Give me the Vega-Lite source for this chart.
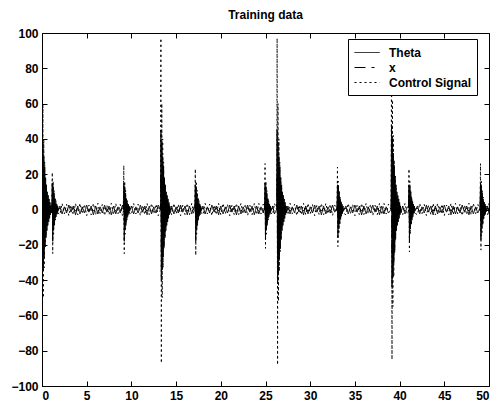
{
  "$schema": "https://vega.github.io/schema/vega-lite/v6.json",
  "autosize": "none",
  "width": 447,
  "height": 353,
  "padding": {"left": 42, "top": 33, "right": 11, "bottom": 20},
  "background": "white",
  "title": {"text": "Training data", "fontSize": 12, "fontWeight": "bold", "font": "Liberation Sans", "color": "black", "offset": 5, "anchor": "middle"},
  "config": {
    "view": {"stroke": "black", "strokeWidth": 1},
    "axis": {"grid": false, "domainColor": "black", "tickColor": "black", "labelColor": "black", "labelFont": "Liberation Sans", "labelFontSize": 12, "labelFontWeight": "bold", "tickSize": -5, "labelPadding": 9, "title": null},
    "legend": {"labelFont": "Liberation Sans", "labelFontSize": 12, "labelFontWeight": "bold", "labelColor": "black"}
  },
  "data": {"values": [
    {"t":0,"a":40,"b":20,"c":97},{"t":0.05,"a":-42,"b":-25,"c":-80},{"t":0.1,"a":38,"b":18,"c":60},{"t":0.15,"a":-34,"b":-16,"c":-50},{"t":0.2,"a":30,"b":14,"c":40},{"t":0.25,"a":-27,"b":-12,"c":-33},{"t":0.3,"a":24,"b":10,"c":27},{"t":0.35,"a":-21,"b":-9,"c":-22},{"t":0.4,"a":18,"b":8,"c":18},{"t":0.45,"a":-16,"b":-7,"c":-15},{"t":0.5,"a":14,"b":6,"c":12},{"t":0.55,"a":-12,"b":-5,"c":-10},{"t":0.6,"a":10,"b":4,"c":8},{"t":0.65,"a":-9,"b":-4,"c":-7},{"t":0.7,"a":8,"b":3,"c":6},{"t":0.75,"a":-7,"b":-3,"c":-5},{"t":0.8,"a":6,"b":2,"c":4},{"t":0.85,"a":-5,"b":-2,"c":-3},{"t":0.9,"a":4,"b":2,"c":3},{"t":0.95,"a":-3,"b":-1,"c":-2},{"t":1.0,"a":2,"b":1,"c":2},{"t":1.05,"a":-2,"b":-1,"c":-1},
    {"t":1.1,"a":1,"b":0,"c":-1},{"t":1.15,"a":15,"b":8,"c":21},{"t":1.2,"a":-18,"b":-8,"c":-25},{"t":1.25,"a":13,"b":6,"c":16},{"t":1.3,"a":-11,"b":-5,"c":-14},{"t":1.35,"a":9,"b":4,"c":11},{"t":1.4,"a":-8,"b":-3,"c":-9},{"t":1.45,"a":6,"b":3,"c":7},{"t":1.5,"a":-5,"b":-2,"c":-6},{"t":1.55,"a":4,"b":2,"c":5},{"t":1.6,"a":-3,"b":-1,"c":-4},{"t":1.65,"a":3,"b":1,"c":3},{"t":1.7,"a":-2,"b":-1,"c":-3},{"t":1.75,"a":2,"b":1,"c":2},{"t":1.8,"a":-1,"b":0,"c":-2},
    {"t":2.0,"a":2,"b":0.8,"c":-3},{"t":2.25,"a":-2.5,"b":-1,"c":3.5},{"t":2.5,"a":1.5,"b":0.5,"c":-2.5},{"t":2.75,"a":-2,"b":-0.7,"c":3},{"t":3.0,"a":2.5,"b":1,"c":-3.5},{"t":3.25,"a":-1.5,"b":-0.6,"c":2.5},{"t":3.5,"a":2,"b":0.7,"c":-3},{"t":3.75,"a":-3,"b":-0.9,"c":3.5},
    {"t":4.0,"a":2,"b":0.8,"c":-3},{"t":4.25,"a":-2.5,"b":-1,"c":3.5},{"t":4.5,"a":1.5,"b":0.5,"c":-2.5},{"t":4.75,"a":-2,"b":-0.7,"c":3},{"t":5.0,"a":2.5,"b":1,"c":-3.5},{"t":5.25,"a":-1.5,"b":-0.6,"c":2.5},{"t":5.5,"a":2,"b":0.7,"c":-3},{"t":5.75,"a":-3,"b":-0.9,"c":3.5},
    {"t":6.0,"a":2,"b":0.8,"c":-3},{"t":6.25,"a":-2.5,"b":-1,"c":3.5},{"t":6.5,"a":1.5,"b":0.5,"c":-2.5},{"t":6.75,"a":-2,"b":-0.7,"c":3},{"t":7.0,"a":2.5,"b":1,"c":-3.5},{"t":7.25,"a":-1.5,"b":-0.6,"c":2.5},{"t":7.5,"a":2,"b":0.7,"c":-3},{"t":7.75,"a":-3,"b":-0.9,"c":3.5},
    {"t":8.0,"a":2,"b":0.8,"c":-3},{"t":8.25,"a":-2.5,"b":-1,"c":3.5},{"t":8.5,"a":1.5,"b":0.5,"c":-2.5},{"t":8.75,"a":-2,"b":-0.7,"c":3},{"t":9.0,"a":2.5,"b":1,"c":-3.5},
    {"t":9.1,"a":1,"b":0,"c":-1},{"t":9.15,"a":15,"b":8,"c":25},{"t":9.2,"a":-18,"b":-8,"c":-25},{"t":9.25,"a":13,"b":6,"c":16},{"t":9.3,"a":-11,"b":-5,"c":-14},{"t":9.35,"a":9,"b":4,"c":11},{"t":9.4,"a":-8,"b":-3,"c":-9},{"t":9.45,"a":6,"b":3,"c":7},{"t":9.5,"a":-5,"b":-2,"c":-6},{"t":9.55,"a":4,"b":2,"c":5},{"t":9.6,"a":-3,"b":-1,"c":-4},{"t":9.65,"a":3,"b":1,"c":3},{"t":9.7,"a":-2,"b":-1,"c":-3},{"t":9.75,"a":2,"b":1,"c":2},{"t":9.8,"a":-1,"b":0,"c":-2},
    {"t":10.0,"a":2,"b":0.8,"c":-3},{"t":10.25,"a":-2.5,"b":-1,"c":3.5},{"t":10.5,"a":1.5,"b":0.5,"c":-2.5},{"t":10.75,"a":-2,"b":-0.7,"c":3},{"t":11.0,"a":2.5,"b":1,"c":-3.5},{"t":11.25,"a":-1.5,"b":-0.6,"c":2.5},{"t":11.5,"a":2,"b":0.7,"c":-3},{"t":11.75,"a":-3,"b":-0.9,"c":3.5},
    {"t":12.0,"a":2,"b":0.8,"c":-3},{"t":12.25,"a":-2.5,"b":-1,"c":3.5},{"t":12.5,"a":1.5,"b":0.5,"c":-2.5},{"t":12.75,"a":-2,"b":-0.7,"c":3},{"t":13.0,"a":2.5,"b":1,"c":-3.5},{"t":13.25,"a":0,"b":0,"c":0},
    {"t":13.3,"a":45,"b":20,"c":97},{"t":13.35,"a":-40,"b":-25,"c":-87},{"t":13.4,"a":38,"b":18,"c":60},{"t":13.45,"a":-34,"b":-16,"c":-50},{"t":13.5,"a":30,"b":14,"c":40},{"t":13.55,"a":-27,"b":-12,"c":-33},{"t":13.6,"a":24,"b":10,"c":27},{"t":13.65,"a":-21,"b":-9,"c":-22},{"t":13.7,"a":18,"b":8,"c":18},{"t":13.75,"a":-16,"b":-7,"c":-15},{"t":13.8,"a":14,"b":6,"c":12},{"t":13.85,"a":-12,"b":-5,"c":-10},{"t":13.9,"a":10,"b":4,"c":8},{"t":13.95,"a":-9,"b":-4,"c":-7},{"t":14.0,"a":8,"b":3,"c":6},{"t":14.05,"a":-7,"b":-3,"c":-5},{"t":14.1,"a":6,"b":2,"c":4},{"t":14.15,"a":-5,"b":-2,"c":-3},{"t":14.2,"a":4,"b":2,"c":3},{"t":14.25,"a":-3,"b":-1,"c":-2},{"t":14.3,"a":2,"b":1,"c":2},{"t":14.35,"a":-2,"b":-1,"c":-1},
    {"t":14.5,"a":2,"b":0.8,"c":-3},{"t":14.75,"a":-2.5,"b":-1,"c":3.5},{"t":15.0,"a":1.5,"b":0.5,"c":-2.5},{"t":15.25,"a":-2,"b":-0.7,"c":3},{"t":15.5,"a":2.5,"b":1,"c":-3.5},{"t":15.75,"a":-1.5,"b":-0.6,"c":2.5},{"t":16.0,"a":2,"b":0.7,"c":-3},{"t":16.25,"a":-3,"b":-0.9,"c":3.5},{"t":16.5,"a":2,"b":0.8,"c":-3},{"t":16.75,"a":-2.5,"b":-1,"c":3.5},{"t":17.0,"a":1.5,"b":0.5,"c":-2.5},
    {"t":17.1,"a":1,"b":0,"c":-1},{"t":17.15,"a":14,"b":8,"c":23},{"t":17.2,"a":-18,"b":-8,"c":-26},{"t":17.25,"a":13,"b":6,"c":16},{"t":17.3,"a":-11,"b":-5,"c":-14},{"t":17.35,"a":9,"b":4,"c":11},{"t":17.4,"a":-8,"b":-3,"c":-9},{"t":17.45,"a":6,"b":3,"c":7},{"t":17.5,"a":-5,"b":-2,"c":-6},{"t":17.55,"a":4,"b":2,"c":5},{"t":17.6,"a":-3,"b":-1,"c":-4},{"t":17.65,"a":3,"b":1,"c":3},{"t":17.7,"a":-2,"b":-1,"c":-3},{"t":17.75,"a":2,"b":1,"c":2},{"t":17.8,"a":-1,"b":0,"c":-2},
    {"t":18.0,"a":2,"b":0.8,"c":-3},{"t":18.25,"a":-2.5,"b":-1,"c":3.5},{"t":18.5,"a":1.5,"b":0.5,"c":-2.5},{"t":18.75,"a":-2,"b":-0.7,"c":3},{"t":19.0,"a":2.5,"b":1,"c":-3.5},{"t":19.25,"a":-1.5,"b":-0.6,"c":2.5},{"t":19.5,"a":2,"b":0.7,"c":-3},{"t":19.75,"a":-3,"b":-0.9,"c":3.5},
    {"t":20.0,"a":2,"b":0.8,"c":-3},{"t":20.25,"a":-2.5,"b":-1,"c":3.5},{"t":20.5,"a":1.5,"b":0.5,"c":-2.5},{"t":20.75,"a":-2,"b":-0.7,"c":3},{"t":21.0,"a":2.5,"b":1,"c":-3.5},{"t":21.25,"a":-1.5,"b":-0.6,"c":2.5},{"t":21.5,"a":2,"b":0.7,"c":-3},{"t":21.75,"a":-3,"b":-0.9,"c":3.5},
    {"t":22.0,"a":2,"b":0.8,"c":-3},{"t":22.25,"a":-2.5,"b":-1,"c":3.5},{"t":22.5,"a":1.5,"b":0.5,"c":-2.5},{"t":22.75,"a":-2,"b":-0.7,"c":3},{"t":23.0,"a":2.5,"b":1,"c":-3.5},{"t":23.25,"a":-1.5,"b":-0.6,"c":2.5},{"t":23.5,"a":2,"b":0.7,"c":-3},{"t":23.75,"a":-3,"b":-0.9,"c":3.5},
    {"t":24.0,"a":2,"b":0.8,"c":-3},{"t":24.25,"a":-2.5,"b":-1,"c":3.5},{"t":24.5,"a":1.5,"b":0.5,"c":-2.5},{"t":24.75,"a":-2,"b":-0.7,"c":3},
    {"t":24.9,"a":1,"b":0,"c":-1},{"t":24.95,"a":15,"b":8,"c":26},{"t":25.0,"a":-17,"b":-8,"c":-22},{"t":25.05,"a":13,"b":6,"c":16},{"t":25.1,"a":-11,"b":-5,"c":-14},{"t":25.15,"a":9,"b":4,"c":11},{"t":25.2,"a":-8,"b":-3,"c":-9},{"t":25.25,"a":6,"b":3,"c":7},{"t":25.3,"a":-5,"b":-2,"c":-6},{"t":25.35,"a":4,"b":2,"c":5},{"t":25.4,"a":-3,"b":-1,"c":-4},{"t":25.45,"a":3,"b":1,"c":3},{"t":25.5,"a":-2,"b":-1,"c":-3},{"t":25.55,"a":2,"b":1,"c":2},{"t":25.6,"a":-1,"b":0,"c":-2},
    {"t":25.8,"a":2,"b":0.8,"c":-3},{"t":26.0,"a":-2.5,"b":-1,"c":3.5},{"t":26.25,"a":0,"b":0,"c":0},
    {"t":26.3,"a":45,"b":20,"c":97},{"t":26.35,"a":-42,"b":-25,"c":-88},{"t":26.4,"a":38,"b":18,"c":60},{"t":26.45,"a":-36,"b":-16,"c":-52},{"t":26.5,"a":30,"b":14,"c":40},{"t":26.55,"a":-28,"b":-12,"c":-35},{"t":26.6,"a":24,"b":10,"c":27},{"t":26.65,"a":-22,"b":-9,"c":-24},{"t":26.7,"a":18,"b":8,"c":18},{"t":26.75,"a":-17,"b":-7,"c":-16},{"t":26.8,"a":14,"b":6,"c":12},{"t":26.85,"a":-12,"b":-5,"c":-10},{"t":26.9,"a":10,"b":4,"c":8},{"t":26.95,"a":-9,"b":-4,"c":-7},{"t":27.0,"a":8,"b":3,"c":6},{"t":27.05,"a":-7,"b":-3,"c":-5},{"t":27.1,"a":6,"b":2,"c":4},{"t":27.15,"a":-5,"b":-2,"c":-3},{"t":27.2,"a":4,"b":2,"c":3},{"t":27.25,"a":-3,"b":-1,"c":-2},{"t":27.3,"a":2,"b":1,"c":2},{"t":27.35,"a":-2,"b":-1,"c":-1},
    {"t":27.5,"a":2,"b":0.8,"c":-3},{"t":27.75,"a":-2.5,"b":-1,"c":3.5},{"t":28.0,"a":1.5,"b":0.5,"c":-2.5},{"t":28.25,"a":-2,"b":-0.7,"c":3},{"t":28.5,"a":2.5,"b":1,"c":-3.5},{"t":28.75,"a":-1.5,"b":-0.6,"c":2.5},{"t":29.0,"a":2,"b":0.7,"c":-3},{"t":29.25,"a":-3,"b":-0.9,"c":3.5},
    {"t":29.5,"a":2,"b":0.8,"c":-3},{"t":29.75,"a":-2.5,"b":-1,"c":3.5},{"t":30.0,"a":1.5,"b":0.5,"c":-2.5},{"t":30.25,"a":-2,"b":-0.7,"c":3},{"t":30.5,"a":2.5,"b":1,"c":-3.5},{"t":30.75,"a":-1.5,"b":-0.6,"c":2.5},{"t":31.0,"a":2,"b":0.7,"c":-3},{"t":31.25,"a":-3,"b":-0.9,"c":3.5},
    {"t":31.5,"a":2,"b":0.8,"c":-3},{"t":31.75,"a":-2.5,"b":-1,"c":3.5},{"t":32.0,"a":1.5,"b":0.5,"c":-2.5},{"t":32.25,"a":-2,"b":-0.7,"c":3},{"t":32.5,"a":2.5,"b":1,"c":-3.5},{"t":32.75,"a":-1.5,"b":-0.6,"c":2.5},
    {"t":33.0,"a":1,"b":0,"c":-1},{"t":33.05,"a":14,"b":8,"c":24},{"t":33.1,"a":-16,"b":-8,"c":-21},{"t":33.15,"a":13,"b":6,"c":16},{"t":33.2,"a":-11,"b":-5,"c":-14},{"t":33.25,"a":9,"b":4,"c":11},{"t":33.3,"a":-8,"b":-3,"c":-9},{"t":33.35,"a":6,"b":3,"c":7},{"t":33.4,"a":-5,"b":-2,"c":-6},{"t":33.45,"a":4,"b":2,"c":5},{"t":33.5,"a":-3,"b":-1,"c":-4},{"t":33.55,"a":3,"b":1,"c":3},{"t":33.6,"a":-2,"b":-1,"c":-3},{"t":33.65,"a":2,"b":1,"c":2},{"t":33.7,"a":-1,"b":0,"c":-2},
    {"t":34.0,"a":2,"b":0.8,"c":-3},{"t":34.25,"a":-2.5,"b":-1,"c":3.5},{"t":34.5,"a":1.5,"b":0.5,"c":-2.5},{"t":34.75,"a":-2,"b":-0.7,"c":3},{"t":35.0,"a":2.5,"b":1,"c":-3.5},{"t":35.25,"a":-1.5,"b":-0.6,"c":2.5},{"t":35.5,"a":2,"b":0.7,"c":-3},{"t":35.75,"a":-3,"b":-0.9,"c":3.5},
    {"t":36.0,"a":2,"b":0.8,"c":-3},{"t":36.25,"a":-2.5,"b":-1,"c":3.5},{"t":36.5,"a":1.5,"b":0.5,"c":-2.5},{"t":36.75,"a":-2,"b":-0.7,"c":3},{"t":37.0,"a":2.5,"b":1,"c":-3.5},{"t":37.25,"a":-1.5,"b":-0.6,"c":2.5},{"t":37.5,"a":2,"b":0.7,"c":-3},{"t":37.75,"a":-3,"b":-0.9,"c":3.5},
    {"t":38.0,"a":2,"b":0.8,"c":-3},{"t":38.25,"a":-2.5,"b":-1,"c":3.5},{"t":38.5,"a":1.5,"b":0.5,"c":-2.5},{"t":38.75,"a":-2,"b":-0.7,"c":3},{"t":39.05,"a":0,"b":0,"c":0},
    {"t":39.1,"a":48,"b":20,"c":97},{"t":39.15,"a":-44,"b":-25,"c":-85},{"t":39.2,"a":40,"b":18,"c":62},{"t":39.25,"a":-38,"b":-16,"c":-55},{"t":39.3,"a":32,"b":14,"c":42},{"t":39.35,"a":-30,"b":-12,"c":-38},{"t":39.4,"a":25,"b":10,"c":28},{"t":39.45,"a":-23,"b":-9,"c":-25},{"t":39.5,"a":19,"b":8,"c":19},{"t":39.55,"a":-17,"b":-7,"c":-16},{"t":39.6,"a":14,"b":6,"c":12},{"t":39.65,"a":-12,"b":-5,"c":-10},{"t":39.7,"a":10,"b":4,"c":8},{"t":39.75,"a":-9,"b":-4,"c":-7},{"t":39.8,"a":8,"b":3,"c":6},{"t":39.85,"a":-7,"b":-3,"c":-5},{"t":39.9,"a":6,"b":2,"c":4},{"t":39.95,"a":-5,"b":-2,"c":-3},{"t":40.0,"a":4,"b":2,"c":3},{"t":40.05,"a":-3,"b":-1,"c":-2},{"t":40.1,"a":2,"b":1,"c":2},{"t":40.15,"a":-2,"b":-1,"c":-1},
    {"t":40.35,"a":2,"b":0.8,"c":-3},{"t":40.6,"a":-2.5,"b":-1,"c":3.5},{"t":40.85,"a":1.5,"b":0.5,"c":-2.5},
    {"t":41.0,"a":1,"b":0,"c":-1},{"t":41.05,"a":14,"b":8,"c":23},{"t":41.1,"a":-18,"b":-8,"c":-24},{"t":41.15,"a":13,"b":6,"c":16},{"t":41.2,"a":-11,"b":-5,"c":-14},{"t":41.25,"a":9,"b":4,"c":11},{"t":41.3,"a":-8,"b":-3,"c":-9},{"t":41.35,"a":6,"b":3,"c":7},{"t":41.4,"a":-5,"b":-2,"c":-6},{"t":41.45,"a":4,"b":2,"c":5},{"t":41.5,"a":-3,"b":-1,"c":-4},{"t":41.55,"a":3,"b":1,"c":3},{"t":41.6,"a":-2,"b":-1,"c":-3},{"t":41.65,"a":2,"b":1,"c":2},{"t":41.7,"a":-1,"b":0,"c":-2},
    {"t":42.0,"a":2,"b":0.8,"c":-3},{"t":42.25,"a":-2.5,"b":-1,"c":3.5},{"t":42.5,"a":1.5,"b":0.5,"c":-2.5},{"t":42.75,"a":-2,"b":-0.7,"c":3},{"t":43.0,"a":2.5,"b":1,"c":-3.5},{"t":43.25,"a":-1.5,"b":-0.6,"c":2.5},{"t":43.5,"a":2,"b":0.7,"c":-3},{"t":43.75,"a":-3,"b":-0.9,"c":3.5},
    {"t":44.0,"a":2,"b":0.8,"c":-3},{"t":44.25,"a":-2.5,"b":-1,"c":3.5},{"t":44.5,"a":1.5,"b":0.5,"c":-2.5},{"t":44.75,"a":-2,"b":-0.7,"c":3},{"t":45.0,"a":2.5,"b":1,"c":-3.5},{"t":45.25,"a":-1.5,"b":-0.6,"c":2.5},{"t":45.5,"a":2,"b":0.7,"c":-3},{"t":45.75,"a":-3,"b":-0.9,"c":3.5},
    {"t":46.0,"a":2,"b":0.8,"c":-3},{"t":46.25,"a":-2.5,"b":-1,"c":3.5},{"t":46.5,"a":1.5,"b":0.5,"c":-2.5},{"t":46.75,"a":-2,"b":-0.7,"c":3},{"t":47.0,"a":2.5,"b":1,"c":-3.5},{"t":47.25,"a":-1.5,"b":-0.6,"c":2.5},{"t":47.5,"a":2,"b":0.7,"c":-3},{"t":47.75,"a":-3,"b":-0.9,"c":3.5},
    {"t":48.0,"a":2,"b":0.8,"c":-3},{"t":48.25,"a":-2.5,"b":-1,"c":3.5},{"t":48.5,"a":1.5,"b":0.5,"c":-2.5},{"t":48.75,"a":-2,"b":-0.7,"c":3},
    {"t":49.0,"a":1,"b":0,"c":-1},{"t":49.05,"a":15,"b":8,"c":26},{"t":49.1,"a":-17,"b":-8,"c":-23},{"t":49.15,"a":13,"b":6,"c":16},{"t":49.2,"a":-11,"b":-5,"c":-14},{"t":49.25,"a":9,"b":4,"c":11},{"t":49.3,"a":-8,"b":-3,"c":-9},{"t":49.35,"a":6,"b":3,"c":7},{"t":49.4,"a":-5,"b":-2,"c":-6},{"t":49.45,"a":4,"b":2,"c":5},{"t":49.5,"a":-3,"b":-1,"c":-4},{"t":49.55,"a":3,"b":1,"c":3},{"t":49.6,"a":-2,"b":-1,"c":-3},{"t":49.65,"a":2,"b":1,"c":2},{"t":49.7,"a":-1,"b":0,"c":-2},
    {"t":49.85,"a":2,"b":0.8,"c":-3},{"t":50.0,"a":-2.5,"b":-1,"c":3.5}
  ]},
  "layer": [
    {
      "mark": {"type": "line", "color": "black", "strokeWidth": 1, "clip": true},
      "encoding": {
        "x": {"field": "t", "type": "quantitative", "scale": {"domain": [0, 50], "nice": false}, "axis": {"orient": "bottom", "values": [0,5,10,15,20,25,30,35,40,45,50]}},
        "y": {"field": "a", "type": "quantitative", "scale": {"domain": [-100, 100], "nice": false}, "axis": {"orient": "left", "values": [-100,-80,-60,-40,-20,0,20,40,60,80,100]}},
        "strokeDash": {"datum": "Theta", "type": "nominal", "scale": {"domain": ["Theta", "x", "Control Signal"], "range": [[1, 0], [11, 6, 3, 6], [2, 3]]},
          "legend": {"title": null, "orient": "none", "legendX": 306, "legendY": 6, "strokeColor": "black", "fillColor": "white", "padding": 6, "symbolType": "M-1,0H2.6", "symbolSize": 196, "symbolFillColor": "transparent", "symbolStrokeColor": "black", "symbolStrokeWidth": 1, "labelOffset": 20, "rowPadding": 1, "labelExpr": "datum.label + '\u00a0\u00a0\u00a0\u00a0\u00a0\u00a0'"}}
      }
    },
    {
      "mark": {"type": "line", "color": "black", "strokeWidth": 1, "clip": true},
      "encoding": {
        "x": {"field": "t", "type": "quantitative", "axis": {"orient": "top", "values": [0,5,10,15,20,25,30,35,40,45,50], "labels": false, "domain": false}},
        "y": {"field": "b", "type": "quantitative", "axis": {"orient": "right", "values": [-100,-80,-60,-40,-20,0,20,40,60,80,100], "labels": false, "domain": false}},
        "strokeDash": {"datum": "x", "type": "nominal"}
      }
    },
    {
      "mark": {"type": "line", "color": "black", "strokeWidth": 1, "clip": true},
      "encoding": {
        "x": {"field": "t", "type": "quantitative", "axis": null},
        "y": {"field": "c", "type": "quantitative", "axis": null},
        "strokeDash": {"datum": "Control Signal", "type": "nominal"}
      }
    }
  ],
  "resolve": {"axis": {"x": "independent", "y": "independent"}}
}
